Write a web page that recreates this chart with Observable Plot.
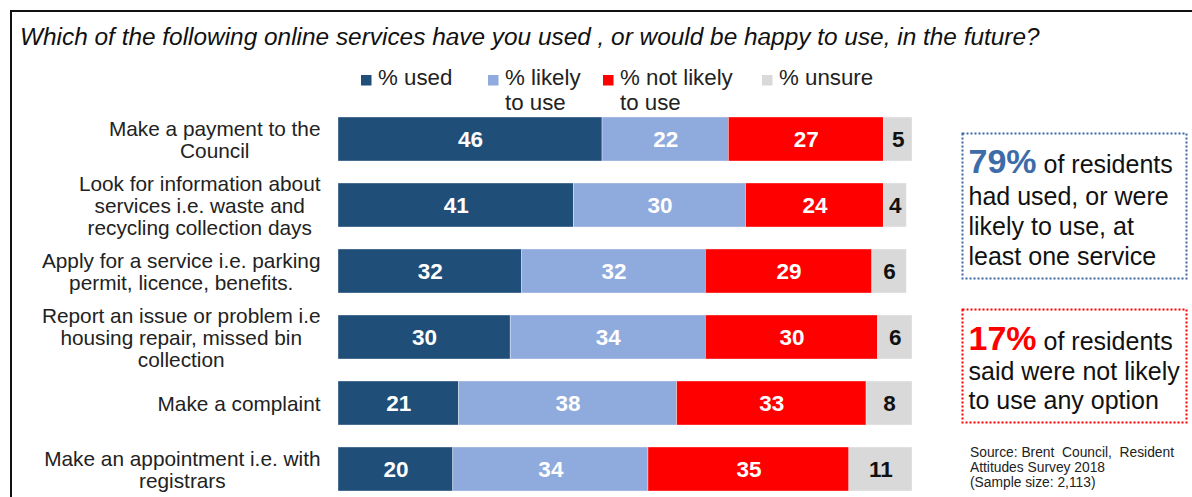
<!DOCTYPE html>
<html><head><meta charset="utf-8">
<script src="https://cdn.jsdelivr.net/npm/d3@7"></script>
<script src="https://cdn.jsdelivr.net/npm/@observablehq/plot@0.6"></script>
<style>
body{margin:0;background:#fff;font-family:"Liberation Sans",Arial,sans-serif;}
#wrap{position:relative;width:1192px;height:497px;overflow:hidden;background:#fff;}
#frame{position:absolute;left:10px;top:10px;width:1400px;height:800px;border-left:2px solid #111;border-top:2px solid #111;}
#chart{position:absolute;left:0;top:100px;}
#overlay{position:absolute;left:0;top:0;}
#overlay text{white-space:pre;}
</style></head><body>
<div id="wrap"><div id="frame"></div><div id="chart"></div><svg id="overlay" width="1192" height="497"></svg></div>
<script>
// ---- data ----
const categories = [
  "Make a payment to the\nCouncil",
  "Look for information about\nservices i.e. waste and\nrecycling collection days",
  "Apply for a service i.e. parking\npermit, licence, benefits.",
  "Report an issue or problem i.e\nhousing repair, missed bin\ncollection",
  "Make a complaint",
  "Make an appointment i.e. with\nregistrars"
];
const seriesNames = ["% used", "% likely to use", "% not likely to use", "% unsure"];
const used      = [46, 41, 32, 30, 21, 20];
const likely    = [22, 30, 32, 34, 38, 34];
const notLikely = [27, 24, 29, 30, 33, 35];
const unsure    = [5, 4, 6, 6, 8, 11];
const legendLines = [["% used"], ["% likely", "to use"], ["% not likely", "to use"], ["% unsure"]];
const title = "Which of the following online services have you used , or would be happy to use, in the future?";
const box1 = {big: "79%", first: " of residents", rest: ["had used, or were", "likely to use, at", "least one service"]};
const box2 = {big: "17%", first: " of residents", rest: ["said were not likely", "to use any option"]};
const sourceLines = ["Source: Brent  Council,  Resident", "Attitudes Survey 2018", "(Sample size: 2,113)"];

// ---- styles ----
const colors = ["#1f4e79", "#8faadc", "#ff0000", "#d9d9d9"];
const FONT = "'Liberation Sans', Arial, sans-serif";

// ---- tidy table ----
const seriesValues = [used, likely, notLikely, unsure];
const data = [];
categories.forEach((c, i) => seriesValues.forEach((vals, k) => data.push({cat: c, series: seriesNames[k], value: vals[i]})));
const stackOpts = {x: "value", y: "cat", z: "series", order: seriesNames};

// measure label widths for centred multi-line labels right-aligned as a block
const ctx = document.createElement("canvas").getContext("2d");
const labelSize = 20.8;
ctx.font = `${labelSize}px ${FONT}`;
const maxW = c => Math.max(...c.split("\n").map(s => ctx.measureText(s).width));

const W = 940, H = 397;
const chart = Plot.plot({
  width: W, height: H,
  marginLeft: 338, marginRight: 28, marginTop: 17, marginBottom: 6,
  style: {fontFamily: FONT, background: "transparent"},
  x: {domain: [0, 100], axis: null},
  y: {domain: categories, axis: null, paddingInner: 1/3, paddingOuter: 0},
  color: {domain: seriesNames, range: colors},
  marks: [
    Plot.barX(data, Plot.stackX({...stackOpts, fill: "series", stroke: "#ffffff", strokeWidth: 0.6, strokeOpacity: 0.6, inset: 0})),
    Plot.textX(data, Plot.stackX({...stackOpts, text: d => d.series === "% unsure" ? null : String(d.value), fill: "#ffffff", fontWeight: "bold", fontSize: 22.5})),
    Plot.textX(data, Plot.stackX({...stackOpts, text: d => d.series === "% unsure" ? String(d.value) : null, fill: "#111111", fontWeight: "bold", fontSize: 22.5})),
    ...categories.map(c => Plot.text([c], {
      y: d => d, text: d => d, frameAnchor: "left", dx: -18 - maxW(c) / 2,
      textAnchor: "middle", lineAnchor: "middle", lineHeight: 22 / labelSize,
      fontSize: labelSize, fill: "#222"
    }))
  ]
});
document.getElementById("chart").appendChild(chart);

// ---- overlay: title, legend, annotation boxes, source ----
const svg = d3.select("#overlay").style("font-family", FONT);
svg.append("text").attr("x", 20).attr("y", 45).attr("font-size", 24.4).attr("font-style", "italic").attr("fill", "#111").text(title);

const legendX = [361, 488, 603, 762];
const lg = svg.append("g");
legendLines.forEach((lines, k) => {
  lg.append("rect").attr("x", legendX[k]).attr("y", 75).attr("width", 10.5).attr("height", 10.5).attr("fill", colors[k]);
  lines.forEach((t, j) => lg.append("text").attr("x", legendX[k] + 17).attr("y", 85 + j * 24.5).attr("font-size", 22.3).attr("fill", "#222").text(t));
});

function box(b, x, y, w, h, stroke, bigColor, baselines) {
  svg.append("rect").attr("x", x).attr("y", y).attr("width", w).attr("height", h)
    .attr("fill", "none").attr("stroke", stroke).attr("stroke-width", 2).attr("stroke-dasharray", "2 2");
  const t = svg.append("text").attr("x", x + 6).attr("y", baselines[0]).attr("fill", "#111").attr("font-size", 25);
  t.append("tspan").attr("font-size", 34).attr("font-weight", "bold").attr("fill", bigColor).text(b.big);
  t.append("tspan").text(b.first);
  b.rest.forEach((s, j) => svg.append("text").attr("x", x + 6).attr("y", baselines[j + 1]).attr("font-size", 25).attr("fill", "#111").text(s));
}
box(box1, 962.5, 133.5, 224, 145, "#3b66a3", "#3e6ca8", [173, 205, 235, 265]);
box(box2, 962.5, 309.5, 224, 113, "#ff0000", "#ff0000", [350, 380, 409]);

sourceLines.forEach((s, j) => svg.append("text").attr("x", 970).attr("y", 457 + j * 15).attr("font-size", 13.8).attr("fill", "#222").text(s));
</script>
</body></html>
